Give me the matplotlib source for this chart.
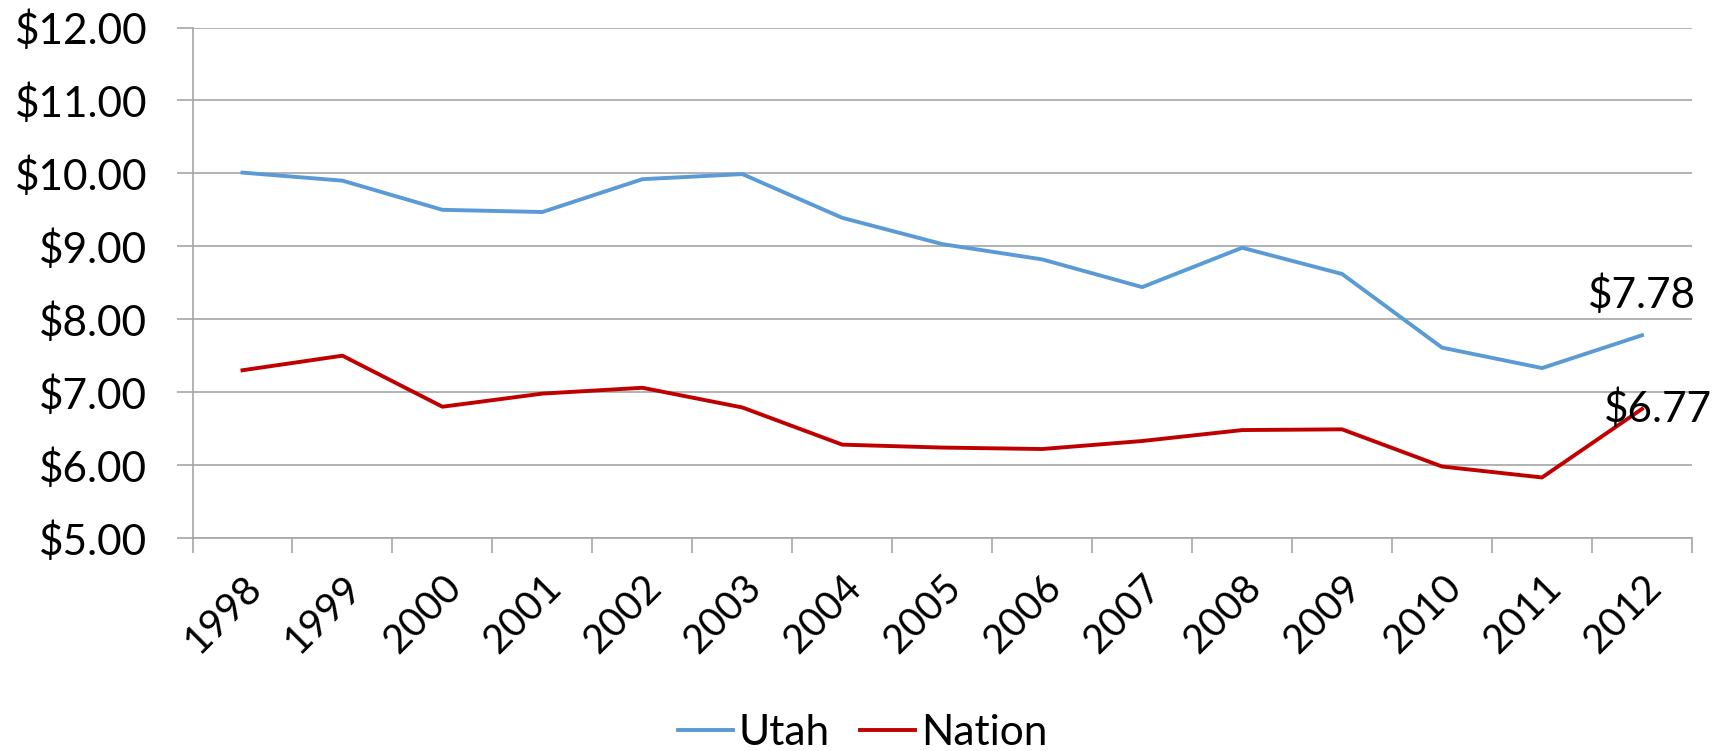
import matplotlib
matplotlib.use("Agg")
from matplotlib import pyplot as plt
from matplotlib.ticker import FixedLocator, NullFormatter

years = ["1998", "1999", "2000", "2001", "2002", "2003", "2004", "2005",
         "2006", "2007", "2008", "2009", "2010", "2011", "2012"]
utah = [10.01, 9.90, 9.50, 9.47, 9.92, 9.99, 9.39, 9.03,
        8.82, 8.44, 8.98, 8.62, 7.61, 7.33, 7.78]
nation = [7.30, 7.50, 6.80, 6.98, 7.06, 6.79, 6.28, 6.24,
          6.22, 6.33, 6.48, 6.49, 5.98, 5.83, 6.77]
yticks = [5, 6, 7, 8, 9, 10, 11, 12]

BLUE = "#5B9BD5"
RED = "#C00000"
GRID = "#A6A6A6"
FS = 30.5

plt.rcParams["font.family"] = ["Lato", "DejaVu Sans"]

W, H = 1725, 751
fig = plt.figure(figsize=(W / 100, H / 100), dpi=100)
left, right, top, bottom = 192.5, 1692, 27.5, 538
ax = fig.add_axes([left / W, 1 - bottom / H, (right - left) / W, (bottom - top) / H])

x = list(range(len(years)))
ax.plot(x, utah, color=BLUE, lw=2.8, label="Utah", solid_joinstyle="round")
ax.plot(x, nation, color=RED, lw=2.8, label="Nation", solid_joinstyle="round")

ax.set_xlim(-0.5, len(years) - 0.5)
ax.set_ylim(5, 12)
ax.set_yticks(yticks)
ax.set_yticklabels(["${:.2f}".format(v) for v in yticks])
ax.grid(axis="y", color=GRID, lw=1.2)
ax.set_axisbelow(True)

# category labels at centres, tick marks between categories
ax.set_xticks(x)
ax.set_xticklabels(years, rotation=45, ha="right", va="top", rotation_mode="anchor")
ax.xaxis.set_minor_locator(FixedLocator([i - 0.5 for i in range(len(years) + 1)]))
ax.xaxis.set_minor_formatter(NullFormatter())
ax.tick_params(axis="x", which="major", length=0, pad=22, labelsize=28.5)
ax.tick_params(axis="x", which="minor", length=10.5, width=1.2, color=GRID)
ax.tick_params(axis="y", length=11.5, width=1.2, color=GRID, pad=21, labelsize=FS)

for s in ("top", "right"):
    ax.spines[s].set_visible(False)
for s in ("left", "bottom"):
    ax.spines[s].set_color(GRID)
    ax.spines[s].set_linewidth(1.2)

# end-point labels
ax.annotate("${:.2f}".format(utah[-1]), (x[-1], utah[-1]), xytext=(0, 29),
            textcoords="offset points", ha="center", va="center", fontsize=FS)
ax.annotate("${:.2f}".format(nation[-1]), (x[-1], nation[-1]), xytext=(11.5, 0),
            textcoords="offset points", ha="center", va="center", fontsize=FS)

fig.legend(loc="center", bbox_to_anchor=(0.5, 1 - 733 / H), ncol=2, frameon=False,
           fontsize=FS, handlelength=1.3, handletextpad=0.15, columnspacing=0.7,
           borderpad=0)

fig.savefig("out.png", dpi=100, facecolor="white")
